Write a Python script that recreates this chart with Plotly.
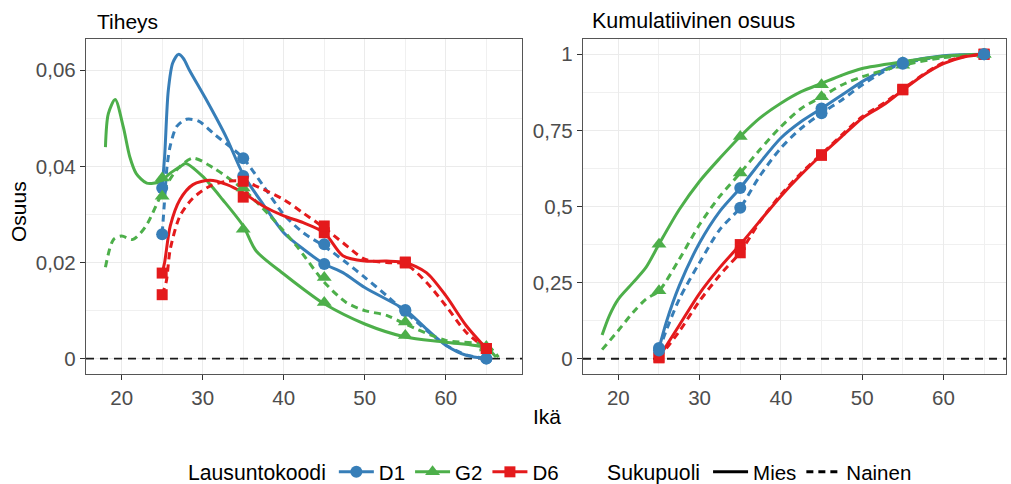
import plotly.graph_objects as go

W, H = 1011, 484

# ---------------- data ----------------
point_ages = [25, 35, 45, 55, 65]

# density (Tiheys) points
d1_mies_dens = [0.0355, 0.0380, 0.0197, 0.0101, 0.0]
d1_nainen_dens = [0.0259, 0.0417, 0.0238, 0.0099, 0.0]
g2_mies_dens = [0.0376, 0.0269, 0.0117, 0.0048, 0.0022]
g2_nainen_dens = [0.0338, 0.0355, 0.0169, 0.0076, 0.0025]
d6_mies_dens = [0.0178, 0.0336, 0.0262, 0.0201, 0.0021]
d6_nainen_dens = [0.0133, 0.0369, 0.0276, 0.0199, 0.0021]

# cumulative (Kumulatiivinen osuus) points
d1_mies_cum = [0.035, 0.561, 0.822, 0.972, 1.0]
d1_nainen_cum = [0.027, 0.496, 0.806, 0.969, 1.0]
g2_mies_cum = [0.376, 0.730, 0.900, 0.972, 1.0]
g2_nainen_cum = [0.223, 0.610, 0.860, 0.964, 1.0]
d6_mies_cum = [0.005, 0.375, 0.670, 0.885, 1.0]
d6_nainen_cum = [0.003, 0.348, 0.668, 0.883, 1.0]

# smoothed density curves
d1_mies_dcurve_x = [25, 25.3, 25.75, 26.3, 27, 27.6, 28.4, 30.5, 32.9, 35, 37.5, 40, 42.4, 45, 47.3, 50, 55, 57.6, 60, 62.5, 65]
d1_mies_dcurve_y = [0.036, 0.042, 0.0557, 0.0615, 0.0633, 0.0625, 0.0599, 0.0537, 0.0461, 0.0383, 0.032, 0.0262, 0.0228, 0.0197, 0.0179, 0.0148, 0.0101, 0.0062, 0.0028, 0.0007, 0.0]
d1_nainen_dcurve_x = [25, 25.3, 25.6, 26.0, 26.8, 28, 29.5, 31.5, 33, 35, 37.5, 40, 42.4, 45, 47.7, 50, 52.7, 55, 57.6, 60, 62.5, 65]
d1_nainen_dcurve_y = [0.026, 0.033, 0.040, 0.0443, 0.0483, 0.0498, 0.0494, 0.0466, 0.0446, 0.0417, 0.0359, 0.030, 0.0262, 0.0234, 0.020, 0.0169, 0.0131, 0.0097, 0.0059, 0.0028, 0.0008, 0.0]
g2_mies_dcurve_x = [18, 18.35, 19.2, 20.2, 21.0, 21.8, 23.1, 24.7, 26, 27.2, 27.9, 30, 32.5, 35, 36.6, 40, 42.4, 45, 50, 55, 60, 65, 66.2]
g2_mies_dcurve_y = [0.044, 0.0509, 0.0539, 0.0482, 0.042, 0.0385, 0.0365, 0.0368, 0.0386, 0.0399, 0.0406, 0.0379, 0.033, 0.0276, 0.0224, 0.0176, 0.0145, 0.0114, 0.0072, 0.0045, 0.0034, 0.0022, 0.0003]
g2_nainen_dcurve_x = [18, 19, 20, 21.4, 23, 25, 26.8, 28.8, 31.3, 35, 38.3, 41.6, 45, 47.7, 50, 52.7, 55, 60, 65, 66.5]
g2_nainen_dcurve_y = [0.019, 0.0248, 0.0255, 0.0248, 0.0276, 0.0345, 0.0393, 0.0417, 0.0397, 0.0352, 0.0297, 0.0234, 0.0159, 0.0117, 0.010, 0.009, 0.0072, 0.0038, 0.0028, 0.0003]
d6_mies_dcurve_x = [25, 25.3, 26, 27.2, 28.8, 30.9, 33, 35, 37.5, 40, 42.4, 45, 47.3, 50, 52.7, 55, 57.6, 60, 62.5, 65]
d6_mies_dcurve_y = [0.0178, 0.020, 0.0276, 0.0331, 0.0362, 0.0371, 0.0362, 0.0345, 0.0317, 0.0297, 0.0283, 0.0262, 0.0214, 0.0203, 0.0203, 0.020, 0.0179, 0.0131, 0.0069, 0.0021]
d6_nainen_dcurve_x = [25, 25.5, 26, 27.2, 28.8, 30.9, 33, 35, 37.5, 40, 42.4, 45, 47.3, 50, 52.7, 55, 57.6, 60, 62.5, 65]
d6_nainen_dcurve_y = [0.0133, 0.016, 0.0228, 0.0297, 0.0334, 0.0359, 0.0369, 0.0369, 0.0352, 0.0331, 0.0303, 0.0272, 0.0241, 0.0207, 0.020, 0.0197, 0.0159, 0.011, 0.0055, 0.0021]

# smoothed cumulative curves
d1_mies_ccurve_x = [25, 25.9, 27.5, 30, 32.5, 35, 37.4, 40, 42.5, 45, 47.5, 50, 52.6, 55, 60, 65]
d1_mies_ccurve_y = [0.033, 0.12, 0.24, 0.381, 0.485, 0.561, 0.643, 0.725, 0.779, 0.822, 0.866, 0.91, 0.948, 0.972, 0.995, 1.0]
d1_nainen_ccurve_x = [25, 25.9, 27.5, 30, 32.5, 35, 37.4, 40, 42.5, 45, 47.5, 50, 52.6, 55, 60, 65]
d1_nainen_ccurve_y = [0.027, 0.093, 0.196, 0.316, 0.425, 0.496, 0.6, 0.692, 0.757, 0.806, 0.85, 0.899, 0.942, 0.969, 0.993, 1.0]
g2_mies_ccurve_x = [18, 18.9, 20, 21.8, 23.4, 25, 27.5, 30, 32.5, 35, 37.4, 40, 42.5, 45, 47.5, 50, 55, 60, 65]
g2_mies_ccurve_y = [0.078, 0.142, 0.196, 0.25, 0.30, 0.376, 0.49, 0.583, 0.659, 0.73, 0.79, 0.839, 0.877, 0.904, 0.931, 0.953, 0.975, 0.993, 1.0]
g2_nainen_ccurve_x = [18, 20, 21.8, 23.4, 25, 27.5, 30, 32.5, 35, 37.4, 40, 42.5, 45, 47.5, 50, 55, 60, 65]
g2_nainen_ccurve_y = [0.03, 0.093, 0.152, 0.196, 0.223, 0.327, 0.441, 0.534, 0.61, 0.686, 0.762, 0.822, 0.86, 0.899, 0.926, 0.964, 0.989, 1.0]
d6_mies_ccurve_x = [25, 27.5, 30, 32.5, 35, 37.4, 40, 42.5, 45, 47.5, 50, 52.6, 55, 57.5, 60, 62.5, 65]
d6_mies_ccurve_y = [0.005, 0.11, 0.215, 0.30, 0.375, 0.452, 0.534, 0.605, 0.67, 0.73, 0.79, 0.833, 0.882, 0.931, 0.969, 0.991, 1.0]
d6_nainen_ccurve_x = [25, 27.5, 30, 32.5, 35, 37.4, 40, 42.5, 45, 47.5, 50, 52.6, 55, 57.5, 60, 62.5, 65]
d6_nainen_ccurve_y = [0.003, 0.09, 0.19, 0.275, 0.350, 0.450, 0.539, 0.61, 0.672, 0.735, 0.795, 0.838, 0.885, 0.933, 0.972, 0.992, 1.0]

codes = ["D1", "G2", "D6"]
genders = ["Mies", "Nainen"]
panel_titles = ["Tiheys", "Kumulatiivinen osuus"]
x_title = "Ikä"
y_title = "Osuus"
legend_titles = ["Lausuntokoodi", "Sukupuoli"]
x_ticks = [20, 30, 40, 50, 60]
dens_ticks = [0, 0.02, 0.04, 0.06]
dens_ticktext = ["0", "0,02", "0,04", "0,06"]
cum_ticks = [0, 0.25, 0.5, 0.75, 1]
cum_ticktext = ["0", "0,25", "0,5", "0,75", "1"]
reference_level = 0

# axis ranges (ggplot-style 5% expansion)
dens_x_range = [15.6, 69.4]
dens_y_range = [-0.0032, 0.0665]
cum_x_range = [15.65, 67.7]
cum_y_range = [-0.05, 1.05]

# ---------------- table / styles ----------------
FONT = "Liberation Sans, Arial, sans-serif"
colors = {"D1": "#377EB8", "G2": "#4DAF4A", "D6": "#E41A1C"}
symbols = {"D1": "circle", "G2": "triangle-up", "D6": "square"}
msize = {"D1": 12, "G2": 13, "D6": 11}
dashes = {"Mies": "solid", "Nainen": "7px,5px"}

dens_points = {("D1", "Mies"): d1_mies_dens, ("D1", "Nainen"): d1_nainen_dens,
               ("G2", "Mies"): g2_mies_dens, ("G2", "Nainen"): g2_nainen_dens,
               ("D6", "Mies"): d6_mies_dens, ("D6", "Nainen"): d6_nainen_dens}
cum_points = {("D1", "Mies"): d1_mies_cum, ("D1", "Nainen"): d1_nainen_cum,
              ("G2", "Mies"): g2_mies_cum, ("G2", "Nainen"): g2_nainen_cum,
              ("D6", "Mies"): d6_mies_cum, ("D6", "Nainen"): d6_nainen_cum}
dens_curves = {("D1", "Mies"): (d1_mies_dcurve_x, d1_mies_dcurve_y),
               ("D1", "Nainen"): (d1_nainen_dcurve_x, d1_nainen_dcurve_y),
               ("G2", "Mies"): (g2_mies_dcurve_x, g2_mies_dcurve_y),
               ("G2", "Nainen"): (g2_nainen_dcurve_x, g2_nainen_dcurve_y),
               ("D6", "Mies"): (d6_mies_dcurve_x, d6_mies_dcurve_y),
               ("D6", "Nainen"): (d6_nainen_dcurve_x, d6_nainen_dcurve_y)}
cum_curves = {("D1", "Mies"): (d1_mies_ccurve_x, d1_mies_ccurve_y),
              ("D1", "Nainen"): (d1_nainen_ccurve_x, d1_nainen_ccurve_y),
              ("G2", "Mies"): (g2_mies_ccurve_x, g2_mies_ccurve_y),
              ("G2", "Nainen"): (g2_nainen_ccurve_x, g2_nainen_ccurve_y),
              ("D6", "Mies"): (d6_mies_ccurve_x, d6_mies_ccurve_y),
              ("D6", "Nainen"): (d6_nainen_ccurve_x, d6_nainen_ccurve_y)}

fig = go.Figure()

panels = [("x", "y", dens_curves, dens_points, codes, dens_x_range),
          ("x2", "y2", cum_curves, cum_points, ["D6", "G2", "D1"], cum_x_range)]

for xa, ya, curves, points, point_order, xr in panels:
    # dashed reference line at 0 (drawn first, under the data)
    fig.add_trace(go.Scatter(
        x=xr, y=[reference_level, reference_level], xaxis=xa, yaxis=ya, mode="lines",
        line=dict(color="#1A1A1A", width=1.8, dash="8px,6px"),
        showlegend=False, hoverinfo="skip"))
    for code in codes:
        for g in genders:
            cx, cy = curves[(code, g)]
            fig.add_trace(go.Scatter(
                x=cx, y=cy, xaxis=xa, yaxis=ya, mode="lines",
                line=dict(color=colors[code], width=3, dash=dashes[g],
                          shape="spline", smoothing=0.8),
                showlegend=False, hoverinfo="skip"))
    for code in point_order:
        for g in genders:
            fig.add_trace(go.Scatter(
                x=point_ages, y=points[(code, g)], xaxis=xa, yaxis=ya,
                mode="markers",
                marker=dict(color=colors[code], symbol=symbols[code],
                            size=msize[code], line=dict(width=0)),
                showlegend=False))

# legend entries
for code in codes:
    fig.add_trace(go.Scatter(
        x=[None], y=[None], mode="lines+markers", name=code,
        line=dict(color=colors[code], width=3),
        marker=dict(color=colors[code], symbol=symbols[code], size=msize[code]),
        legend="legend"))
for g in genders:
    fig.add_trace(go.Scatter(
        x=[None], y=[None], mode="lines", name=g,
        line=dict(color="black", width=3, dash=dashes[g]),
        legend="legend2"))

axis_common = dict(
    showline=True, mirror=True, linecolor="#555555", linewidth=1.3,
    ticks="outside", ticklen=5, tickwidth=1.3, tickcolor="#333333",
    tickfont=dict(family=FONT, size=20.5, color="#4D4D4D"),
    showgrid=True, gridcolor="#EBEBEB", gridwidth=1.3, zeroline=False,
)

legend_font = dict(family=FONT, size=20.5, color="black")
legend_title_font = dict(family=FONT, size=21.2, color="black")

fig.update_layout(
    width=W, height=H,
    margin=dict(l=0, r=0, t=0, b=0, autoexpand=False),
    paper_bgcolor="white", plot_bgcolor="white",
    font=dict(family=FONT, size=20, color="black"),
    xaxis=dict(domain=[86 / W, 522 / W], range=dens_x_range, tickvals=x_ticks,
               minor=dict(tickmode="linear", tick0=15, dtick=10, showgrid=True,
                          gridcolor="#F0F0F0", gridwidth=0.8, ticks=""),
               anchor="y", **axis_common),
    yaxis=dict(domain=[1 - 374 / H, 1 - 39 / H], range=dens_y_range,
               tickvals=dens_ticks, ticktext=dens_ticktext,
               minor=dict(tickmode="linear", tick0=0.01, dtick=0.02, showgrid=True,
                          gridcolor="#F0F0F0", gridwidth=0.8, ticks=""),
               anchor="x", **axis_common),
    xaxis2=dict(domain=[583 / W, 1006 / W], range=cum_x_range, tickvals=x_ticks,
                minor=dict(tickmode="linear", tick0=15, dtick=10, showgrid=True,
                           gridcolor="#F0F0F0", gridwidth=0.8, ticks=""),
                anchor="y2", **axis_common),
    yaxis2=dict(domain=[1 - 374 / H, 1 - 39 / H], range=cum_y_range,
                tickvals=cum_ticks, ticktext=cum_ticktext,
                minor=dict(tickmode="linear", tick0=0.125, dtick=0.25, showgrid=True,
                           gridcolor="#F0F0F0", gridwidth=0.8, ticks=""),
                anchor="x2", **axis_common),
    legend=dict(orientation="h", x=186 / W, xanchor="left", y=1 - 472 / H, yanchor="middle",
                title=dict(text=legend_titles[0], side="left", font=legend_title_font),
                font=legend_font, itemwidth=35, bgcolor="rgba(0,0,0,0)"),
    legend2=dict(orientation="h", x=605 / W, xanchor="left", y=1 - 472 / H, yanchor="middle",
                 title=dict(text=legend_titles[1], side="left", font=legend_title_font),
                 font=legend_font, itemwidth=35, bgcolor="rgba(0,0,0,0)"),
    showlegend=True,
)

fig.add_annotation(text=panel_titles[0], x=95 / W, y=1 - 21 / H, xref="paper", yref="paper",
                   xanchor="left", yanchor="middle", showarrow=False, font=dict(family=FONT, size=21))
fig.add_annotation(text=panel_titles[1], x=590 / W, y=1 - 21 / H, xref="paper", yref="paper",
                   xanchor="left", yanchor="middle", showarrow=False, font=dict(family=FONT, size=21.5))
fig.add_annotation(text=x_title, x=547 / W, y=1 - 416 / H, xref="paper", yref="paper",
                   xanchor="center", yanchor="middle", showarrow=False, font=dict(family=FONT, size=21))
fig.add_annotation(text=y_title, x=18 / W, y=1 - 212 / H, xref="paper", yref="paper",
                   xanchor="center", yanchor="middle", showarrow=False, textangle=-90,
                   font=dict(family=FONT, size=21))

fig.write_html("out.html", config={"displayModeBar": False},
               post_script="document.body.style.margin='0';")
